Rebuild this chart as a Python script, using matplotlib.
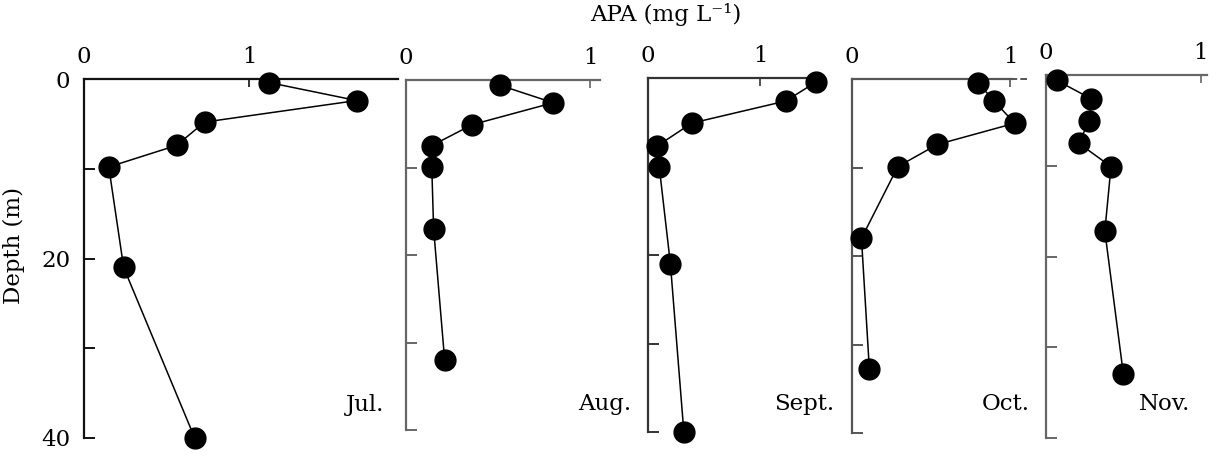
import matplotlib.pyplot as plt

plt.rcParams['font.family'] = ['DejaVu Serif']
plt.rcParams['font.size'] = 16.5

# APA (mg L-1) against depth (m), one profile per month
months = ['Jul.', 'Aug.', 'Sept.', 'Oct.', 'Nov.']

depth_jul = [0.4, 2.4, 4.8, 7.4, 9.8, 21.0, 40.0]
apa_jul = [1.12, 1.65, 0.73, 0.56, 0.15, 0.24, 0.67]

depth_aug = [0.6, 2.6, 5.1, 7.5, 9.9, 17.0, 32.0]
apa_aug = [0.51, 0.80, 0.36, 0.14, 0.14, 0.15, 0.21]

depth_sep = [0.45, 2.6, 5.1, 7.7, 10.0, 21.0, 40.0]
apa_sep = [1.50, 1.23, 0.39, 0.08, 0.10, 0.20, 0.32]

depth_oct = [0.45, 2.5, 5.0, 7.4, 9.9, 18.0, 32.8]
apa_oct = [0.80, 0.90, 1.03, 0.54, 0.29, 0.06, 0.11]

depth_nov = [0.6, 2.6, 5.1, 7.5, 10.1, 17.2, 33.0]
apa_nov = [0.07, 0.29, 0.28, 0.21, 0.42, 0.38, 0.50]

profiles = [(apa_jul, depth_jul), (apa_aug, depth_aug), (apa_sep, depth_sep),
            (apa_oct, depth_oct), (apa_nov, depth_nov)]

W, H = 1218, 458

# panel boxes in pixels: left, right, top, bottom
boxes = [(84, 398, 79, 438), (406, 600, 80, 430), (648, 825, 78, 432),
         (852, 1012, 79, 433), (1046, 1207, 75, 438)]
xmax = [1.90, 1.054, 1.58, 1.013, 1.04]
spine_col = ['#111111', '#666666', '#333333', '#555555', '#666666']
label_pos = [(384, 405), (631, 404), (834, 404), (1030, 404), (1190, 404)]

fig = plt.figure(figsize=(W / 100, H / 100), dpi=100)

for i in range(5):
    x0, x1, yt, yb = boxes[i]
    ax = fig.add_axes([x0 / W, 1 - yb / H, (x1 - x0) / W, (yb - yt) / H])
    apa, depth = profiles[i]
    ax.plot(apa, depth, '-o', color='black', lw=1.1, ms=15, clip_on=False, zorder=3)

    ax.set_xlim(0, xmax[i])
    ax.set_ylim(40, 0)
    ax.spines['right'].set_visible(False)
    ax.spines['bottom'].set_visible(False)
    for s in ['left', 'top']:
        ax.spines[s].set_color(spine_col[i])
        ax.spines[s].set_linewidth(1.6)

    ax.xaxis.tick_top()
    ax.set_xticks([0, 1])
    ax.set_xticklabels(['0', '1'])
    ax.set_yticks([0, 10, 20, 30, 40])
    if i == 0:
        ax.set_yticklabels(['0', '', '20', '', '40'])
    else:
        ax.set_yticklabels([])
    ax.tick_params(axis='x', direction='in', length=6, width=1.2, pad=8,
                   color=spine_col[i])
    ax.tick_params(axis='y', direction='in', length=8, width=1.4, pad=10,
                   color=spine_col[i])

    if i == 3:
        # October: top axis runs on dashed past 1
        ax.plot([1.0, 1.11], [0, 0], ls='--', color=spine_col[i], lw=1.4, clip_on=False)

    fig.text(label_pos[i][0] / W, 1 - label_pos[i][1] / H, months[i],
             ha='right', va='center')

fig.text(666 / W, 1 - 14 / H, 'APA (mg L\u207b\u00b9)', ha='center', va='center')
fig.text(14 / W, 1 - 246 / H, 'Depth (m)', rotation=90, ha='center', va='center')

fig.savefig('out.png', dpi=100)
